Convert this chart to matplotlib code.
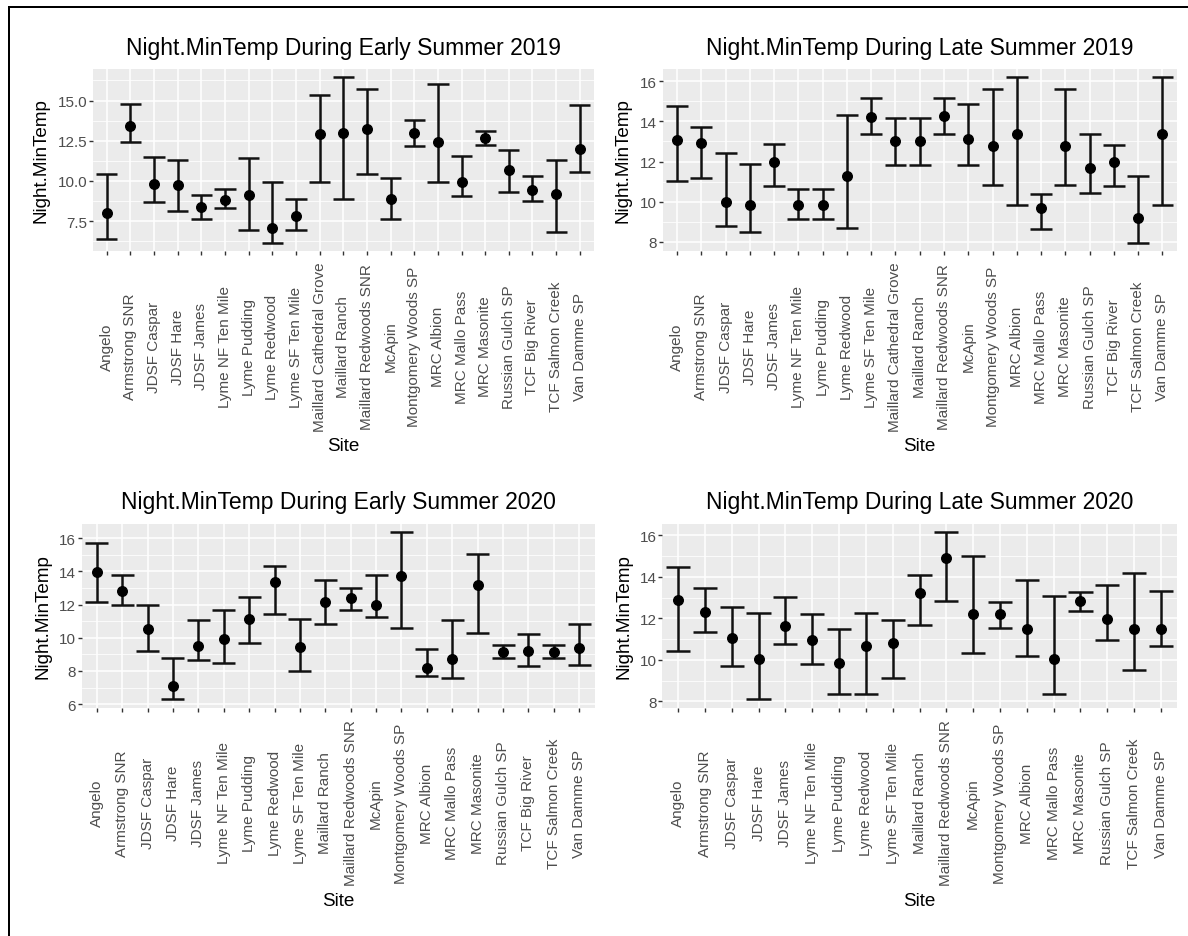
import matplotlib
matplotlib.use("Agg")
import matplotlib.pyplot as plt
from matplotlib.lines import Line2D
import numpy as np

plt.rcParams['font.family'] = ['Liberation Sans', 'DejaVu Sans']

# ---------------- data: mean night minimum temperature with interval bounds ----------------
sites_early19 = ["Angelo", "Armstrong SNR", "JDSF Caspar", "JDSF Hare", "JDSF James",
                 "Lyme NF Ten Mile", "Lyme Pudding", "Lyme Redwood", "Lyme SF Ten Mile",
                 "Maillard Cathedral Grove", "Maillard Ranch", "Maillard Redwoods SNR",
                 "McApin", "Montgomery Woods SP", "MRC Albion", "MRC Mallo Pass",
                 "MRC Masonite", "Russian Gulch SP", "TCF Big River", "TCF Salmon Creek",
                 "Van Damme SP"]
mean_early19 = [8.0, 13.4, 9.8, 9.75, 8.4, 8.8, 9.15, 7.05, 7.8, 12.9, 13.0, 13.2,
                8.85, 12.95, 12.45, 9.9, 12.65, 10.7, 9.45, 9.2, 12.0]
lo_early19 = [6.4, 12.4, 8.7, 8.1, 7.6, 8.3, 6.95, 6.15, 6.95, 9.9, 8.9, 10.4,
              7.6, 12.15, 9.95, 9.05, 12.25, 9.3, 8.75, 6.8, 10.55]
hi_early19 = [10.4, 14.8, 11.5, 11.3, 9.1, 9.5, 11.45, 9.95, 8.9, 15.35, 16.45, 15.7,
              10.2, 13.8, 16.05, 11.55, 13.1, 11.95, 10.3, 11.3, 14.7]

sites_late19 = list(sites_early19)
mean_late19 = [13.05, 12.9, 10.0, 9.85, 12.0, 9.85, 9.85, 11.3, 14.2, 13.0, 13.0, 14.25,
               13.1, 12.75, 13.35, 9.7, 12.75, 11.7, 12.0, 9.2, 13.35]
lo_late19 = [11.05, 11.2, 8.8, 8.5, 10.8, 9.15, 9.15, 8.7, 13.35, 11.85, 11.85, 13.35,
             11.85, 10.85, 9.85, 8.65, 10.85, 10.45, 10.8, 7.95, 9.85]
hi_late19 = [14.75, 13.7, 12.4, 11.9, 12.85, 10.65, 10.65, 14.3, 15.15, 14.15, 14.15, 15.15,
             14.85, 15.6, 16.2, 10.4, 15.6, 13.35, 12.8, 11.3, 16.2]

sites_early20 = ["Angelo", "Armstrong SNR", "JDSF Caspar", "JDSF Hare", "JDSF James",
                 "Lyme NF Ten Mile", "Lyme Pudding", "Lyme Redwood", "Lyme SF Ten Mile",
                 "Maillard Ranch", "Maillard Redwoods SNR", "McApin", "Montgomery Woods SP",
                 "MRC Albion", "MRC Mallo Pass", "MRC Masonite", "Russian Gulch SP",
                 "TCF Big River", "TCF Salmon Creek", "Van Damme SP"]
mean_early20 = [13.95, 12.8, 10.55, 7.1, 9.5, 9.95, 11.15, 13.35, 9.45, 12.15, 12.4, 12.0,
                13.7, 8.2, 8.7, 13.2, 9.15, 9.2, 9.15, 9.4]
lo_early20 = [12.15, 12.0, 9.2, 6.3, 8.65, 8.45, 9.7, 11.45, 8.0, 10.85, 11.7, 11.25,
              10.6, 7.7, 7.55, 10.3, 8.8, 8.3, 8.8, 8.35]
hi_early20 = [15.7, 13.75, 12.0, 8.8, 11.05, 11.7, 12.45, 14.3, 11.1, 13.5, 13.0, 13.75,
              16.35, 9.3, 11.05, 15.05, 9.55, 10.25, 9.55, 10.8]

sites_late20 = ["Angelo", "Armstrong SNR", "JDSF Caspar", "JDSF Hare", "JDSF James",
                "Lyme NF Ten Mile", "Lyme Pudding", "Lyme Redwood", "Lyme SF Ten Mile",
                "Maillard Ranch", "Maillard Redwoods SNR", "McApin", "Montgomery Woods SP",
                "MRC Albion", "MRC Mallo Pass", "MRC Masonite", "Russian Gulch SP",
                "TCF Salmon Creek", "Van Damme SP"]
mean_late20 = [12.9, 12.3, 11.05, 10.05, 11.65, 10.95, 9.85, 10.65, 10.8, 13.2, 14.9, 12.2,
               12.2, 11.5, 10.05, 12.85, 11.95, 11.5, 11.5]
lo_late20 = [10.4, 11.35, 9.7, 8.1, 10.75, 9.8, 8.35, 8.35, 9.1, 11.7, 12.85, 10.35,
             11.55, 10.2, 8.35, 12.35, 10.95, 9.5, 10.65]
hi_late20 = [14.5, 13.45, 12.55, 12.25, 13.05, 12.2, 11.5, 12.25, 11.9, 14.1, 16.15, 15.0,
             12.8, 13.85, 13.1, 13.25, 13.6, 14.2, 13.3]

yticks_2019_early = [7.5, 10.0, 12.5, 15.0]
yticks_default = [6, 8, 10, 12, 14, 16]

# ---------------- layout (pixels) ----------------
W, H = 1188, 937
fig = plt.figure(figsize=(W / 100, H / 100), dpi=100)
fig.patch.set_facecolor('white')

PX = 72 / 100  # points per pixel


def fx(x):
    return x / W


def fy(y):
    return 1 - y / H


def draw_panel(box, sites, mean, lo, hi, yticks, yfmt, title,
               ylab_x, title_y, site_y):
    l, t, r, b = box
    ax = fig.add_axes([fx(l), fy(b), (r - l) / W, (b - t) / H])
    ax.set_facecolor('#EBEBEB')
    for s in ax.spines.values():
        s.set_visible(False)

    x = np.arange(len(sites))
    mean = np.asarray(mean)
    lo = np.asarray(lo)
    hi = np.asarray(hi)

    # error bars with caps, drawn in data units
    ax.vlines(x, lo, hi, color='#111111', lw=1.8, zorder=3)
    ax.hlines(lo, x - 0.45, x + 0.45, color='#111111', lw=1.8, zorder=3)
    ax.hlines(hi, x - 0.45, x + 0.45, color='#111111', lw=1.8, zorder=3)
    ax.plot(x, mean, 'o', color='black', ms=6.9, zorder=4)

    ymin, ymax = lo.min(), hi.max()
    pad = 0.05 * (ymax - ymin)
    ax.set_ylim(ymin - pad, ymax + pad)
    ax.set_xlim(-0.6, len(sites) - 1 + 0.6)

    yt = [v for v in yticks if ymin - pad <= v <= ymax + pad]
    ax.set_yticks(yt)
    ax.set_yticklabels([yfmt.format(v) for v in yt])
    step = yticks[1] - yticks[0]
    minor = [v + step / 2 for v in [yticks[0] - step] + list(yticks)]
    minor = [v for v in minor if ymin - pad <= v <= ymax + pad]
    ax.set_yticks(minor, minor=True)

    ax.set_xticks(x)
    ax.set_xticklabels(sites, rotation=90)
    for lab in ax.get_xticklabels():
        lab.set_verticalalignment('center')

    ax.grid(which='major', color='white', lw=1.1)
    ax.grid(which='minor', axis='y', color='white', lw=0.55)
    ax.set_axisbelow(True)

    ax.tick_params(axis='both', which='major', length=4 * PX, width=1.0,
                   color='#333333', labelcolor='#4D4D4D', labelsize=11)
    ax.tick_params(axis='y', which='major', pad=1.5 * PX)
    ax.tick_params(axis='x', which='major', pad=91 * PX)
    ax.tick_params(which='minor', length=0)

    cx = (l + r) / 2
    cy = (t + b) / 2
    fig.text(fx(cx), fy(title_y), title, ha='center', va='center',
             fontsize=16.5, color='black')
    fig.text(fx(ylab_x), fy(cy), 'Night.MinTemp', rotation=90,
             ha='center', va='center', fontsize=13.6, color='black')
    fig.text(fx(cx), fy(site_y), 'Site', ha='center', va='center',
             fontsize=13.6, color='black')
    return ax


draw_panel((92.5, 70, 594, 252), sites_early19, mean_early19, lo_early19, hi_early19,
           yticks_2019_early, '{:.1f}', 'Night.MinTemp During Early Summer 2019',
           40.7, 48, 447)
draw_panel((662.5, 70, 1177, 252), sites_late19, mean_late19, lo_late19, hi_late19,
           yticks_default, '{:d}', 'Night.MinTemp During Late Summer 2019',
           623, 48, 447)
draw_panel((81.5, 525, 594.5, 708.5), sites_early20, mean_early20, lo_early20, hi_early20,
           yticks_default, '{:d}', 'Night.MinTemp During Early Summer 2020',
           43, 503, 902)
draw_panel((662, 525, 1177, 708.5), sites_late20, mean_late20, lo_late20, hi_late20,
           yticks_default, '{:d}', 'Night.MinTemp During Late Summer 2020',
           624, 503, 902)

# frame lines along the top and left edges of the figure
fig.add_artist(Line2D([fx(8.5), fx(8.5)], [fy(7.5), 0], color='black', lw=2 * PX))
fig.add_artist(Line2D([fx(8.5), 1], [fy(7.5), fy(7.5)], color='black', lw=2 * PX))

fig.savefig('out.png', dpi=100)
